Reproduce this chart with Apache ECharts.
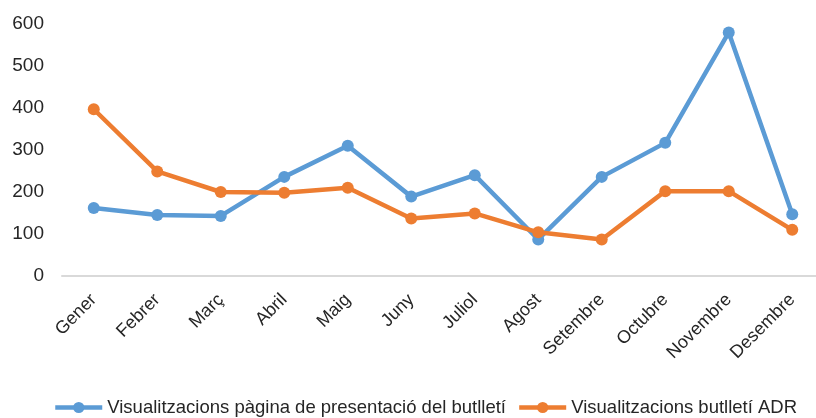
<!DOCTYPE html>
<html>
<head>
<meta charset="utf-8">
<script src="https://cdn.jsdelivr.net/npm/echarts@6/dist/echarts.min.js"></script>
<style>
  html, body { margin: 0; padding: 0; background: #fff; }
  #chart { width: 816px; height: 418px; }
</style>
</head>
<body>
<div id="chart"></div>
<script>
// mesos (eix x)
const months = ["Gener", "Febrer", "Març", "Abril", "Maig", "Juny", "Juliol", "Agost", "Setembre", "Octubre", "Novembre", "Desembre"];
// visualitzacions pàgina de presentació
const pageViews = [162, 145, 143, 236, 310, 189, 240, 87, 236, 317, 580, 147];
// visualitzacions butlletí ADR
const adrViews = [397, 249, 200, 198, 210, 137, 149, 104, 87, 202, 202, 110];
const seriesNames = ["Visualitzacions pàgina de presentació del butlletí", "Visualitzacions butlletí ADR"];

const font = "Liberation Sans, Arial, sans-serif";
const textColor = "#262626";
const chart = echarts.init(document.getElementById("chart"));

function lineSeries(name, data, color) {
  return {
    name: name,
    type: "line",
    data: data,
    symbol: "circle",
    symbolSize: 12,
    lineStyle: { width: 4.5, color: color },
    itemStyle: { color: color },
  };
}

const options = {
  animation: false,
  // la graella surt una mica per la dreta, com a l'original
  grid: { left: 62, top: 24, right: -8, bottom: 142, outerBoundsMode: "none" },
  legend: {
    bottom: -4,
    left: 48,
    itemWidth: 47,
    itemHeight: 14,
    itemGap: 11,
    lineStyle: { width: 4.5 },
    textStyle: { fontFamily: font, fontSize: 18.5, color: textColor },
  },
  xAxis: {
    type: "category",
    data: months,
    boundaryGap: true,
    axisLine: { lineStyle: { color: "#d9d9d9", width: 2 } },
    axisTick: { show: false },
    axisLabel: { rotate: 45, fontFamily: font, fontSize: 18, color: textColor, margin: 21 },
  },
  yAxis: {
    type: "value",
    min: 0,
    max: 600,
    interval: 100,
    splitLine: { show: false },
    axisLine: { show: false },
    axisTick: { show: false },
    axisLabel: { fontFamily: font, fontSize: 19, color: textColor, margin: 18 },
  },
  series: [
    lineSeries(seriesNames[0], pageViews, "#5B9BD5"),
    lineSeries(seriesNames[1], adrViews, "#ED7D31"),
  ],
};
chart.setOption(options);
window.onresize = chart.resize;
</script>
</body>
</html>
